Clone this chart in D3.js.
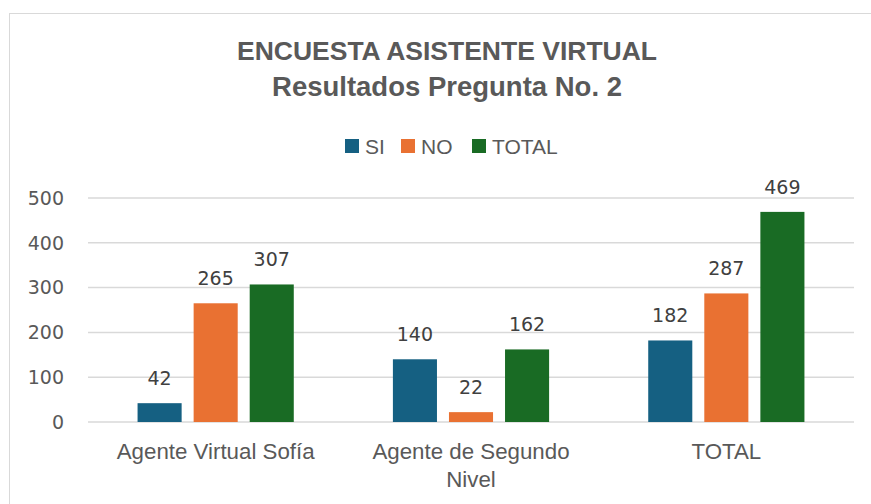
<!DOCTYPE html>
<html>
<head>
<meta charset="utf-8">
<script src="https://cdn.jsdelivr.net/npm/d3@7"></script>
<style>
  body { margin: 0; background: #fff; }
  svg { font-family: "Liberation Sans", Arial, sans-serif; }
  .num { font-family: "DejaVu Sans", sans-serif; font-size: 19px; }
</style>
</head>
<body>
<div id="root"></div>
<script>
const width = 871;
const height = 504;

const categories = [["Agente Virtual Sofía"], ["Agente de Segundo", "Nivel"], ["TOTAL"]];
const seriesNames = ["SI", "NO", "TOTAL"];
const siValues = [42, 140, 182];
const noValues = [265, 22, 287];
const totalValues = [307, 162, 469];
const yTicks = [0, 100, 200, 300, 400, 500];

const colors = ["#156082", "#E97132", "#196B24"];
const series = [siValues, noValues, totalValues];

const plotLeft = 88;
const plotRight = 854;

const svg = d3.select("#root")
    .append("svg")
    .attr("width", width)
    .attr("height", height);

// chart border
svg.append("rect")
    .attr("x", 9.5)
    .attr("y", 13.5)
    .attr("width", width)
    .attr("height", height)
    .attr("fill", "none")
    .attr("stroke", "#d9d9d9");

const x0 = d3.scaleBand()
    .domain(d3.range(categories.length))
    .range([plotLeft, plotRight]);

const x1 = d3.scaleBand()
    .domain(d3.range(seriesNames.length))
    .range([0, x0.bandwidth()])
    .paddingInner(0.214)
    .paddingOuter(0.884);

const y = d3.scaleLinear()
    .domain([0, 500])
    .range([422, 198]);

// gridlines
svg.append("g")
    .selectAll("line")
    .data(yTicks)
    .join("line")
    .attr("x1", plotLeft)
    .attr("x2", plotRight)
    .attr("y1", d => y(d))
    .attr("y2", d => y(d))
    .attr("stroke", "#d9d9d9")
    .attr("stroke-width", 1.5);

// y tick labels
svg.append("g")
    .selectAll("text")
    .data(yTicks)
    .join("text")
    .attr("class", "num")
    .attr("x", 64)
    .attr("y", d => y(d))
    .attr("dy", "0.36em")
    .attr("text-anchor", "end")
    .attr("fill", "#595959")
    .text(d => d);

// bars
const groups = svg.append("g")
    .selectAll("g")
    .data(categories.map((c, i) => i))
    .join("g")
    .attr("transform", i => `translate(${x0(i)},0)`);

groups.selectAll("rect")
    .data(i => series.map((s, k) => ({ k, v: s[i] })))
    .join("rect")
    .attr("x", d => x1(d.k))
    .attr("width", x1.bandwidth())
    .attr("y", d => y(d.v))
    .attr("height", d => y(0) - y(d.v))
    .attr("fill", d => colors[d.k]);

groups.selectAll("text")
    .data(i => series.map((s, k) => ({ k, v: s[i] })))
    .join("text")
    .attr("class", "num")
    .attr("x", d => x1(d.k) + x1.bandwidth() / 2)
    .attr("y", d => y(d.v) - 18)
    .attr("text-anchor", "middle")
    .attr("fill", "#404040")
    .text(d => d.v);

// category labels
svg.append("g")
    .selectAll("text")
    .data(categories)
    .join("text")
    .attr("x", (d, i) => x0(i) + x0.bandwidth() / 2)
    .attr("y", 459)
    .attr("text-anchor", "middle")
    .attr("fill", "#595959")
    .style("font-size", "22.3px")
    .selectAll("tspan")
    .data(d => d)
    .join("tspan")
    .attr("x", function () { return this.parentNode.getAttribute("x"); })
    .attr("dy", (d, j) => j === 0 ? 0 : 28)
    .text(d => d);

// title
const title = svg.append("text")
    .attr("text-anchor", "middle")
    .attr("fill", "#595959")
    .style("font-weight", "bold");
title.append("tspan").attr("x", 447).attr("y", 60)
    .style("font-size", "26.5px").text("ENCUESTA ASISTENTE VIRTUAL");
title.append("tspan").attr("x", 447).attr("y", 96)
    .style("font-size", "27.5px").text("Resultados Pregunta No. 2");

// legend
const legendX = [345, 401, 472];
const legend = svg.append("g")
    .selectAll("g")
    .data(seriesNames)
    .join("g")
    .attr("transform", (d, i) => `translate(${legendX[i]},139)`);
legend.append("rect")
    .attr("width", 14)
    .attr("height", 14)
    .attr("fill", (d, i) => colors[i]);
legend.append("text")
    .attr("x", 20)
    .attr("y", 7)
    .attr("dy", "0.36em")
    .attr("fill", "#595959")
    .style("font-size", "21px")
    .text(d => d);
</script>
</body>
</html>
